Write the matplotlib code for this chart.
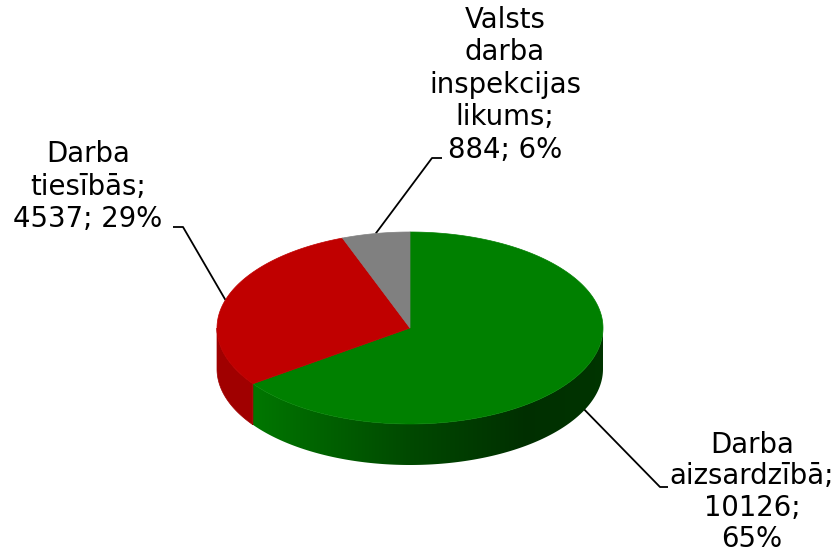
import numpy as np
import matplotlib.pyplot as plt
from matplotlib.colors import to_rgb
from matplotlib.patches import Polygon

# data
categories = ["Darba\naizsardzībā", "Darba\ntiesībās", "Valsts\ndarba\ninspekcijas\nlikums"]
values = [10126, 4537, 884]
top_colors = ["#008000", "#c00000", "#808080"]
side_colors = ["#008000", "#a00000", "#6a6a6a"]
value_sep = [";\n", "; ", "; "]  # how value and percent are joined in the label

# layout (pixels, y down)
W, H = 836, 554
cx, cy = 410, 328
rx, ry = 193, 96
depth = 41
label_pos = [(752, 453), (88, 162), (505, 28)]   # centre x, first baseline
elbows = [[(660, 487), (668, 487)], [(183, 227), (173, 227)], [(432, 158), (442, 158)]]
leader_drop = [0.85, 0.0, 0.0]   # how far down the side the leader starts
line_step = [31.3, 32.5, 32.5]

fig = plt.figure(figsize=(W / 100, H / 100), dpi=100)
ax = fig.add_axes([0, 0, 1, 1])
ax.set_xlim(0, W)
ax.set_ylim(H, 0)
ax.axis("off")


def pt(t, dy=0.0):
    return cx + rx * np.cos(t), cy - ry * np.sin(t) + dy


total = sum(values)
fracs = [v / total for v in values]
starts = []
a = np.pi / 2
for f in fracs:
    starts.append((a, a - 2 * np.pi * f))
    a = a - 2 * np.pi * f

# side walls (only the front half is visible)
for k, (a0, a1) in enumerate(starts):
    lo, hi = min(a0, a1), max(a0, a1)
    for off in [0, 2 * np.pi, -2 * np.pi]:
        s, e = max(lo + off, np.pi), min(hi + off, 2 * np.pi)
        if e <= s:
            continue
        ts = np.linspace(s, e, 150)
        poly = [pt(t) for t in ts] + [pt(t, depth) for t in ts[::-1]]
        if k == 0:
            # green wall darkens toward the right, like the excel 3d pie
            patch = Polygon(poly, closed=True, facecolor="none", edgecolor="none")
            ax.add_patch(patch)
            u = np.linspace(-1, 1, 400)
            f = np.interp(u, [-1, -0.8, 0, 0.6, 1], [0.98, 0.92, 0.57, 0.37, 0.41])
            img = np.array(to_rgb(side_colors[k]))[None, None, :] * f[None, :, None]
            im = ax.imshow(img, extent=(cx - rx, cx + rx, cy + depth + ry, cy - ry),
                           aspect="auto", interpolation="bilinear", zorder=1)
            im.set_clip_path(patch)
        else:
            ax.add_patch(Polygon(poly, closed=True, facecolor=side_colors[k],
                                 edgecolor=side_colors[k], lw=0.5, zorder=1))

# top faces
for k, (a0, a1) in enumerate(starts):
    ts = np.linspace(a0, a1, 200)
    poly = [(cx, cy)] + [pt(t) for t in ts]
    ax.add_patch(Polygon(poly, closed=True, facecolor=top_colors[k],
                         edgecolor=top_colors[k], lw=0.5, zorder=2))

ax.set_xlim(0, W)
ax.set_ylim(H, 0)

# labels and leader lines
for k, (a0, a1) in enumerate(starts):
    mid = 0.5 * (a0 + a1)
    sx, sy = pt(mid, depth * leader_drop[k])
    xs = [sx] + [p[0] for p in elbows[k]]
    ys = [sy] + [p[1] for p in elbows[k]]
    ax.plot(xs, ys, color="black", lw=1.3, solid_capstyle="butt", zorder=0)

    pct = round(fracs[k] * 100)
    text = f"{categories[k]};\n{values[k]}{value_sep[k]}{pct}%"
    lx, ly = label_pos[k]
    for i, line in enumerate(text.split("\n")):
        ax.text(lx, ly + i * line_step[k], line, ha="center", va="baseline",
                fontsize=19.8, fontfamily="DejaVu Sans", color="black")

fig.savefig("out.png", dpi=100)
